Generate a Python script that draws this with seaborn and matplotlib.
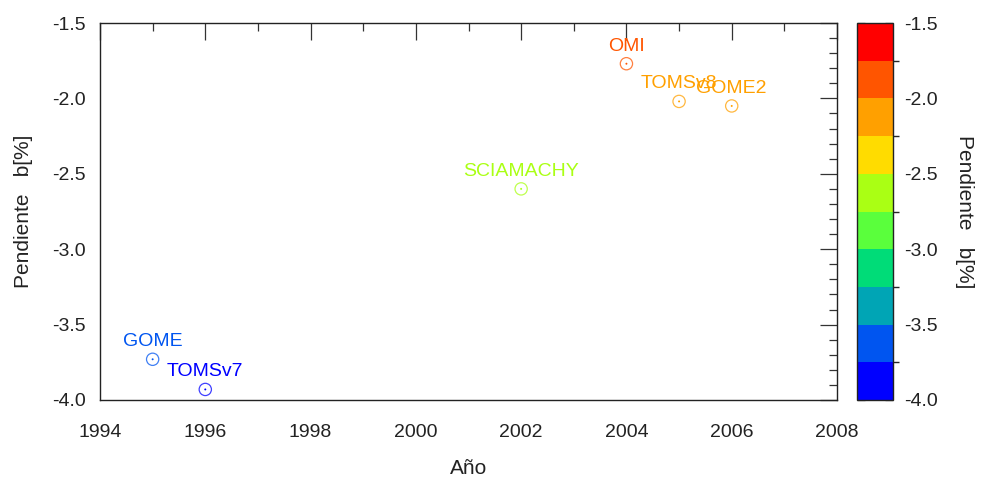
import pandas as pd
import seaborn as sns
import matplotlib.pyplot as plt
from matplotlib.colors import ListedColormap, BoundaryNorm
from matplotlib.ticker import MultipleLocator

sns.set_theme(style='white')
plt.rcParams['font.family'] = ['Liberation Sans', 'DejaVu Sans']

instrumentos = ['GOME', 'TOMSv7', 'SCIAMACHY', 'OMI', 'TOMSv8', 'GOME2']
anios = [1995, 1996, 2002, 2004, 2005, 2006]
pendiente = [-3.73, -3.93, -2.60, -1.77, -2.02, -2.05]

niveles = [-4.0, -3.75, -3.5, -3.25, -3.0, -2.75, -2.5, -2.25, -2.0, -1.75, -1.5]
colores = ['#0000ff', '#0055f0', '#00a5b5', '#00dc78', '#5aff3c',
           '#aaff14', '#ffdc00', '#ffa000', '#ff5500', '#ff0000']

cmap = ListedColormap(colores)
norm = BoundaryNorm(niveles, cmap.N)

df = pd.DataFrame({'Año': anios, 'b': pendiente, 'nombre': instrumentos})

fig = plt.figure(figsize=(9.82, 4.8), dpi=100)
ax = fig.add_axes([100/982, 80/480, 737/982, 377/480])
cax = fig.add_axes([857/982, 80/480, 36/982, 377/480])

# circulos abiertos
sns.scatterplot(data=df, x='Año', y='b', hue='b', palette=cmap, hue_norm=norm,
                s=78, marker='o', legend=False, ax=ax)
coll = ax.collections[0]
fc = coll.get_facecolors()
fc[:, 3] = 0.75
coll.set_facecolor('none')
coll.set_edgecolor(fc)
coll.set_linewidth(0.9)

# punto central
sns.scatterplot(data=df, x='Año', y='b', hue='b', palette=cmap, hue_norm=norm,
                s=2, marker='o', linewidth=0, legend=False, ax=ax)

for _, r in df.iterrows():
    ax.annotate(r['nombre'], (r['Año'], r['b']), xytext=(0, 9.5),
                textcoords='offset points', ha='center', va='baseline',
                color=cmap(norm(r['b'])), fontsize=14)

ax.set_xlim(1994, 2008)
ax.set_ylim(-4.0, -1.5)
ax.xaxis.set_major_locator(MultipleLocator(2))
ax.xaxis.set_minor_locator(MultipleLocator(1))
ax.yaxis.set_major_locator(MultipleLocator(0.5))
ax.yaxis.set_minor_locator(MultipleLocator(0.1))
ax.yaxis.set_major_formatter(plt.FormatStrFormatter('%.1f'))
ax.tick_params(which='both', direction='in', top=True, right=True,
               color='#333333', width=0.9, labelsize=14, labelcolor='#222222')
ax.tick_params(which='major', length=12)
ax.tick_params(which='minor', length=6)
ax.tick_params(axis='x', which='major', pad=17)
ax.tick_params(axis='y', which='major', pad=10)
for s in ax.spines.values():
    s.set_color('#222222')
    s.set_linewidth(1.0)

ax.set_xlabel('Año', fontsize=15, color='#222222', labelpad=13)
ax.set_ylabel('Pendiente   b[%]', fontsize=15, color='#222222', labelpad=14)

sm = plt.cm.ScalarMappable(cmap=cmap, norm=norm)
cb = fig.colorbar(sm, cax=cax, ticks=[-4.0, -3.5, -3.0, -2.5, -2.0, -1.5])
cb.ax.yaxis.set_major_formatter(plt.FormatStrFormatter('%.1f'))
cb.ax.tick_params(direction='in', length=6, width=0.9, color='#333333',
                  left=True, right=True, labelsize=14, labelcolor='#222222', pad=8)
cb.outline.set_edgecolor('#222222')
cb.outline.set_linewidth(1.0)
cb.set_label('Pendiente   b[%]', rotation=-90, fontsize=15, color='#222222', labelpad=26)

fig.savefig('out.png', dpi=100)
